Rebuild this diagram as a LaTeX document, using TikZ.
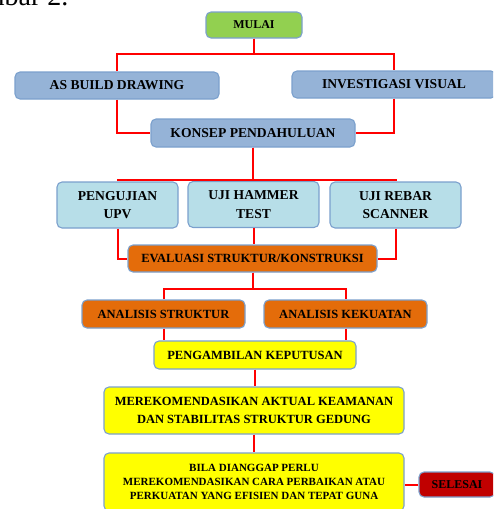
\documentclass[tikz,border=0pt]{standalone}
\usepackage{fontspec}
\setmainfont{Liberation Serif}
\definecolor{cgreen}{HTML}{92D050}
\definecolor{cgrey}{HTML}{95B3D7}
\definecolor{clight}{HTML}{B7DEE8}
\definecolor{corange}{HTML}{E46C0A}
\definecolor{cyellow}{HTML}{FFFF00}
\definecolor{cdred}{HTML}{C00000}
\definecolor{boxline}{HTML}{7BA0CD}

\begin{document}
\begin{tikzpicture}[
  x=1pt, y=-1pt,
  box/.style={draw=boxline, line width=1.1pt, rounded corners=5pt,
    inner sep=0pt, align=center,
    font=\bfseries\fontsize{12.5}{17.5}\selectfont},
  big/.style={font=\bfseries\fontsize{13.6}{18.5}\selectfont},
  link/.style={draw=red, line width=2pt}
]
\def\bw{204pt}
\def\cw{131pt}
\def\yw{300pt}

\useasboundingbox (0,0) rectangle (493,509);
\clip (0,0) rectangle (493,509);

% caption above the chart (cut off)
\node[anchor=base east, font=\fontsize{28}{30}\selectfont] (judul) at (72,5) {Gambar 2.};

% first level
\node[box, fill=cgreen, minimum width=96pt, minimum height=26pt,
  font=\bfseries\fontsize{12}{14}\selectfont] (mulai) at (254,25) {MULAI};
\node[box, big, fill=cgrey, minimum width=\bw, minimum height=27pt] (asbuild) at (117,85.5) {AS BUILD DRAWING};
\node[box, big, fill=cgrey, minimum width=\bw, minimum height=27pt] (invest) at (394,84.5) {INVESTIGASI VISUAL};
\node[box, big, fill=cgrey, minimum width=\bw, minimum height=28pt] (konsep) at (253,133) {KONSEP PENDAHULUAN};

% tests
\node[box, big, fill=clight, minimum width=121pt, minimum height=46pt] (upv) at (117.5,205) {PENGUJIAN\\UPV};
\node[box, big, fill=clight, minimum width=\cw, minimum height=46pt] (hammer) at (253.5,204.5) {UJI HAMMER\\TEST};
\node[box, big, fill=clight, minimum width=\cw, minimum height=46pt] (rebar) at (395.5,205) {UJI REBAR\\SCANNER};

% evaluation
\node[box, fill=corange, minimum width=249pt, minimum height=27pt] (eval) at (252.5,258.5) {EVALUASI STRUKTUR/KONSTRUKSI};
\node[box, fill=corange, minimum width=163pt, minimum height=28pt] (anstr) at (163.5,314) {ANALISIS STRUKTUR};
\node[box, fill=corange, minimum width=163pt, minimum height=28pt] (ankek) at (345.5,314) {ANALISIS KEKUATAN};

% decision and advice
\node[box, fill=cyellow, minimum width=202pt, minimum height=28pt] (ambil) at (255,355) {PENGAMBILAN KEPUTUSAN};
\node[box, fill=cyellow, minimum width=\yw, minimum height=47pt] (rekom) at (254,410.5)
  {MEREKOMENDASIKAN AKTUAL KEAMANAN\\DAN STABILITAS STRUKTUR GEDUNG};
\node[box, fill=cyellow, minimum width=\yw, minimum height=58pt,
  font=\bfseries\fontsize{11}{14}\selectfont] (bila) at (254,482)
  {BILA DIANGGAP PERLU\\MEREKOMENDASIKAN CARA PERBAIKAN ATAU\\PERKUATAN YANG EFISIEN DAN TEPAT GUNA};
\node[box, fill=cdred, minimum width=76pt, minimum height=25pt,
  font=\bfseries\fontsize{12}{14}\selectfont] (selesai) at (457,484.5) {SELESAI};

% connectors
\foreach \b in {asbuild,invest}
  \draw[link] (mulai.south) -- ++(0,15) -| (\b.north);
\draw[link] (asbuild.south) |- (konsep.west);
\draw[link] (invest.south) |- (konsep.east);

\foreach \b in {upv,rebar}
  \draw[link] (konsep.south) -- ++(0,32) -| (\b.north);
\draw[link] (konsep.south) -- (konsep.south |- hammer.north);

\draw[link] (upv.south) |- (eval.west);
\draw[link] (rebar.south) |- (eval.east);
\draw[link] (hammer.south) -- (hammer.south |- eval.north);

\foreach \b in {anstr,ankek} {
  \draw[link] (eval.south) -- ++(0,16) -| (\b.north);
  \draw[link] (\b.south) -- (\b.south |- ambil.north);
}

\draw[link] (ambil.south) -- (ambil.south |- rekom.north);
\draw[link] (rekom.south) -- (rekom.south |- bila.north);
\draw[link] (selesai.west) -- (selesai.west -| bila.east);

\end{tikzpicture}
\end{document}
